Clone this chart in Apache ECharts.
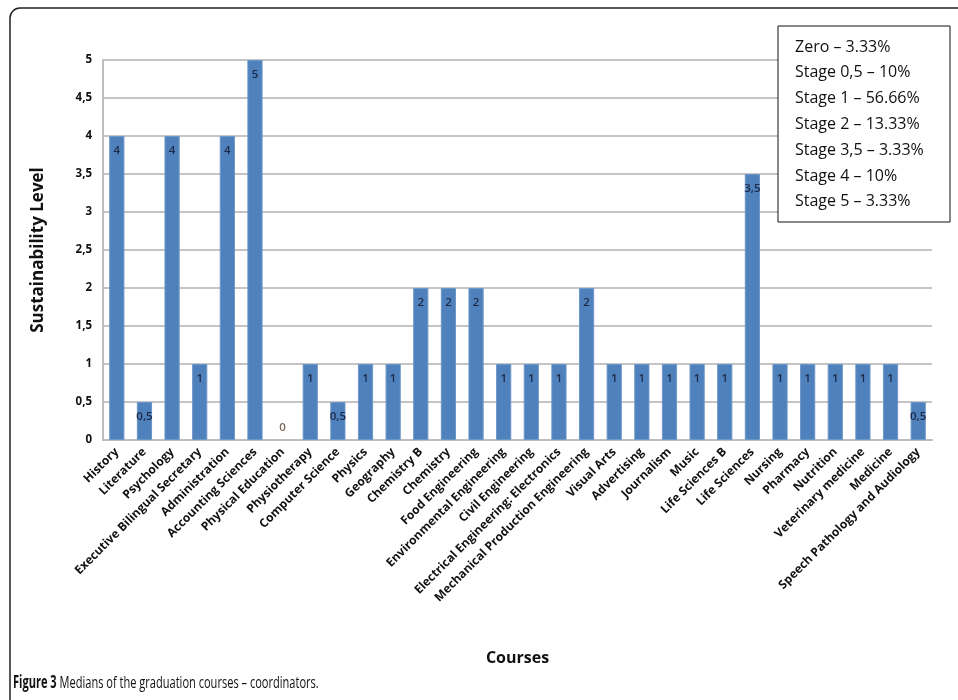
<!DOCTYPE html>
<html>
<head>
<meta charset="utf-8">
<script src="https://cdn.jsdelivr.net/npm/echarts@6/dist/echarts.min.js"></script>
<style>html,body{margin:0;padding:0;background:#fff}#c{width:958px;height:700px}</style>
</head>
<body>
<div id="c"></div>
<script>
const categories = ["History","Literature","Psychology","Executive Bilingual Secretary","Administration","Accounting Sciences","Physical Education","Physiotherapy","Computer Science","Physics","Geography","Chemistry B","Chemistry","Food Engineering","Environmental Engineering","Civil Engineering","Electrical Engineering: Electronics","Mechanical Production Engineering","Visual Arts","Advertising","Journalism","Music","Life Sciences B","Life Sciences","Nursing","Pharmacy","Nutrition","Veterinary medicine","Medicine","Speech Pathology and Audiology"];
const medians = [4,0.5,4,1,4,5,0,1,0.5,1,1,2,2,2,1,1,1,2,1,1,1,1,1,3.5,1,1,1,1,1,0.5];
const yTicks = {min:0, max:5, interval:0.5};
const legendLines = ["Zero – 3.33%","Stage 0,5 – 10%","Stage 1 – 56.66%","Stage 2 – 13.33%","Stage 3,5 – 3.33%","Stage 4 – 10%","Stage 5 – 3.33%"];
const caption = {bold:"Figure 3", rest:" Medians of the graduation courses – coordinators."};

const fmt = v => String(v).replace('.', ',');
const chart = echarts.init(document.getElementById('c'), null, {renderer:'canvas'});

const capFontB = 'bold 17px "Open Sans", sans-serif';
const capFont = '17px "Open Sans", sans-serif';
const tmp = new echarts.graphic.Text({style:{text:caption.bold, font:capFontB}});
const wB = tmp.getBoundingRect().width;

const graphics = [
  {type:'rect', shape:{x:10, y:8, width:1000, height:760, r:10}, style:{fill:'none', stroke:'#222', lineWidth:1.5}, z:-1},
  {type:'rect', shape:{x:778, y:26, width:172, height:196}, style:{fill:'#fff', stroke:'#111', lineWidth:1}, z:10},
  {type:'group', x:13, y:683, scaleX:0.65, z:10, children:[
    {type:'text', x:0, y:0, style:{text:caption.bold, font:capFontB, fill:'#111', verticalAlign:'middle'}},
    {type:'text', x:wB, y:0, style:{text:caption.rest, font:capFont, fill:'#111', verticalAlign:'middle'}}
  ]}
];
legendLines.forEach((t,i)=>{
  graphics.push({type:'text', x:795, y:47 + i*25.8, style:{text:t, font:'16px "Open Sans", sans-serif', fill:'#111', verticalAlign:'middle'}, z:11});
});

chart.setOption({
  animation:false,
  grid:{left:103, right:26, top:60, bottom:260, containLabel:false},
  xAxis:{
    type:'category', data:categories,
    name:'Courses', nameLocation:'middle', nameGap:210,
    nameTextStyle:{fontFamily:'Open Sans', fontWeight:'bold', fontSize:16, color:'#111'},
    axisLine:{lineStyle:{color:'#bdbdbd', width:2}},
    axisTick:{show:false},
    axisLabel:{interval:0, rotate:45, fontFamily:'Open Sans', fontWeight:'bold', fontSize:12, color:'#111', margin:10}
  },
  yAxis:{
    type:'value', min:yTicks.min, max:yTicks.max, interval:yTicks.interval,
    name:'Sustainability Level', nameLocation:'middle', nameGap:56, nameRotate:90,
    nameTextStyle:{fontFamily:'Open Sans', fontWeight:'bold', fontSize:17, color:'#111'},
    axisLine:{show:true, lineStyle:{color:'#bdbdbd', width:2}},
    axisTick:{show:false},
    splitLine:{lineStyle:{color:'#c4c4c4', width:2}},
    axisLabel:{formatter:fmt, fontFamily:'Open Sans', fontWeight:'bold', fontSize:11.5, color:'#111', margin:11}
  },
  series:[{
    type:'bar',
    data: medians.map(v => v===0 ? {value:v, itemStyle:{borderWidth:0}, label:{position:'top', distance:6, color:'#7a6a55'}} : v),
    barWidth:'55%',
    itemStyle:{color:'#4f81bd', borderColor:'#6d97c9', borderWidth:1},
    label:{show:true, position:'insideTop', distance:9, formatter:p=>fmt(p.value), fontFamily:'Open Sans', fontWeight:600, fontSize:11.5, color:'#1c2a48'}
  }],
  graphic: graphics
});
</script>
</body>
</html>
